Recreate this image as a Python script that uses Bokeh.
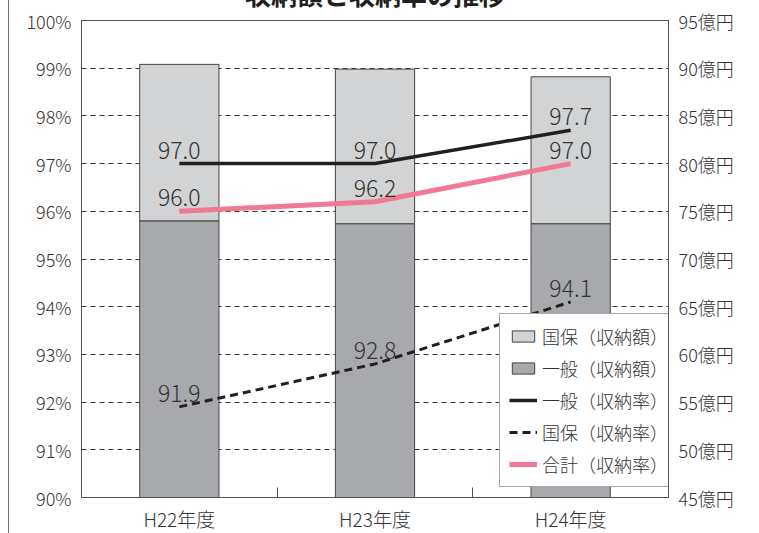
from bokeh.plotting import figure
from bokeh.models import (Range1d, LinearAxis, FixedTicker, PrintfTickFormatter,
                          ColumnDataSource, Legend, LegendItem)
from bokeh.core.properties import value
from bokeh.embed import file_html
from bokeh.resources import INLINE

# ---- data ----
years = ["H22年度", "H23年度", "H24年度"]
ippan_amount = [74.0, 73.7, 73.7]      # 一般（収納額） 億円
kokuho_amount = [16.4, 16.2, 15.4]     # 国保（収納額） 億円
ippan_rate = [97.0, 97.0, 97.7]        # 一般（収納率） %
kokuho_rate = [91.9, 92.8, 94.1]       # 国保（収納率） %
total_rate = [96.0, 96.2, 97.0]        # 合計（収納率） %
pct_ticks = [90, 91, 92, 93, 94, 95, 96, 97, 98, 99, 100]
yen_ticks = [45, 50, 55, 60, 65, 70, 75, 80, 85, 90, 95]
title_text = "収納額と収納率の推移"
legend_labels = ["国保（収納額）", "一般（収納額）", "一般（収納率）", "国保（収納率）", "合計（収納率）"]

FONT = "'Noto Sans CJK JP Light', 'Noto Sans CJK JP'"
TFONT = "Noto Sans CJK JP"
TXT = "#333333"

xpos = [i + 0.5 for i in range(len(years))]
bounds = [i for i in range(1, len(years))]
yen_base = yen_ticks[0]
yen_top = [a + b for a, b in zip(ippan_amount, kokuho_amount)]

p = figure(frame_width=587, frame_height=477,
           x_range=Range1d(0, len(years)), y_range=Range1d(pct_ticks[0], pct_ticks[-1]),
           output_backend="svg", toolbar_location=None,
           min_border_left=72, min_border_right=78, min_border_top=52, min_border_bottom=28)
p.margin = (-36, 0, 0, 8)
p.styles = {"border-left": "1px solid #777777"}

p.title.text = title_text
p.title.text_font = TFONT
p.title.text_font_size = "26px"
p.title.text_font_style = "bold"
p.title.text_color = "#231f20"
p.title.align = "center"
p.title.standoff = 17

p.extra_y_ranges = {"yen": Range1d(yen_ticks[0], yen_ticks[-1])}

p.outline_line_color = "#555555"
p.outline_line_width = 1
p.background_fill_color = "white"
p.border_fill_color = "white"

# axes
p.xaxis.ticker = FixedTicker(ticks=xpos, minor_ticks=bounds)
p.xaxis.major_label_overrides = {x: y for x, y in zip(xpos, years)}
p.xaxis.major_tick_line_color = None
p.xaxis.minor_tick_in = 10
p.xaxis.minor_tick_out = 0
p.xaxis.minor_tick_line_color = "#555555"
p.xaxis.axis_line_color = "#555555"
p.xaxis.major_label_text_font = FONT
p.xaxis.major_label_text_font_size = "19px"
p.xaxis.major_label_text_color = TXT
p.xaxis.major_label_standoff = 1

p.yaxis.ticker = FixedTicker(ticks=pct_ticks, minor_ticks=[])
p.yaxis.formatter = PrintfTickFormatter(format="%d%%")
right = LinearAxis(y_range_name="yen", ticker=FixedTicker(ticks=yen_ticks, minor_ticks=[]),
                   formatter=PrintfTickFormatter(format="%d億円"))
p.add_layout(right, "right")
for ax in (p.yaxis[0], right):
    ax.major_tick_line_color = None
    ax.minor_tick_line_color = None
    ax.axis_line_color = "#555555"
    ax.major_label_text_font = FONT
    ax.major_label_text_font_size = "18px"
    ax.major_label_text_color = TXT
    ax.major_label_standoff = 4

p.xgrid.grid_line_color = None
p.ygrid.ticker = FixedTicker(ticks=pct_ticks[1:-1])
p.ygrid.grid_line_color = "#333333"
p.ygrid.grid_line_dash = "5 4"
p.ygrid.grid_line_width = 1

# bars
src = ColumnDataSource(dict(x=xpos, base=[yen_base] * len(years), ippan=ippan_amount, top=yen_top,
                            ippan_rate=ippan_rate, kokuho_rate=kokuho_rate, total_rate=total_rate,
                            l1=[f"{v:.1f}" for v in ippan_rate],
                            l2=[f"{v:.1f}" for v in kokuho_rate],
                            l3=[f"{v:.1f}" for v in total_rate]))
b_ippan = p.vbar(x="x", bottom="base", top="ippan", width=0.405, source=src, y_range_name="yen",
                 fill_color="#a7a9ac", line_color="#444444", line_width=1)
b_kokuho = p.vbar(x="x", bottom="ippan", top="top", width=0.405, source=src, y_range_name="yen",
                  fill_color="#d1d3d4", line_color="#444444", line_width=1)

# lines
l_ippan = p.line("x", "ippan_rate", source=src, line_color="#231f20", line_width=3.5)
l_kokuho = p.line("x", "kokuho_rate", source=src, line_color="#231f20", line_width=3,
                  line_dash="8 5")
l_total = p.line("x", "total_rate", source=src, line_color="#f07a93", line_width=5)

# labels
for col, ycol in (("l1", "ippan_rate"), ("l2", "kokuho_rate"), ("l3", "total_rate")):
    p.text(x="x", y=ycol, text=col, source=src, text_font=value(FONT), text_font_size="23px",
           text_color=TXT, text_align="center", text_baseline="bottom", y_offset=-5)

legend = Legend(items=[
    LegendItem(label=legend_labels[0], renderers=[b_kokuho]),
    LegendItem(label=legend_labels[1], renderers=[b_ippan]),
    LegendItem(label=legend_labels[2], renderers=[l_ippan]),
    LegendItem(label=legend_labels[3], renderers=[l_kokuho]),
    LegendItem(label=legend_labels[4], renderers=[l_total]),
], location=(418, 10))
legend.label_text_font = FONT
legend.label_text_font_size = "18px"
legend.label_text_color = TXT
legend.glyph_width = 28
legend.glyph_height = 14
legend.label_standoff = 5
legend.spacing = 6
legend.padding = 9
legend.margin = 0
legend.border_line_color = "#555555"
legend.border_line_width = 1
legend.background_fill_alpha = 1.0
p.add_layout(legend)

open("out.html", "w").write(file_html(p, INLINE))
